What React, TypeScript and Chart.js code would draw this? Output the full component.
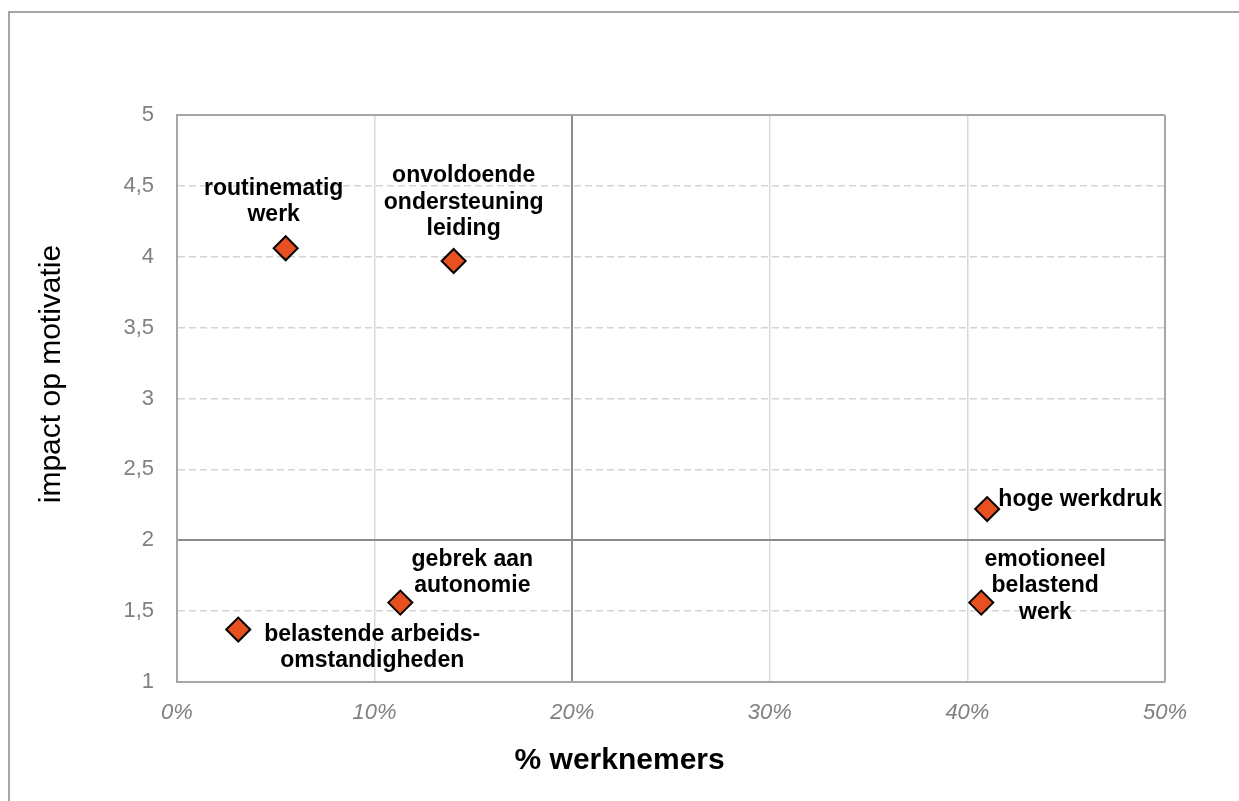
import React, { useEffect, useRef } from "react";
import { Chart, registerables } from "chart.js";

Chart.register(...registerables);

// Share of employees (%) and impact on motivation per work factor
const factors: string[][] = [
  ["routinematig", "werk"],
  ["onvoldoende", "ondersteuning", "leiding"],
  ["gebrek aan", "autonomie"],
  ["belastende arbeids-", "omstandigheden"],
  ["hoge werkdruk"],
  ["emotioneel", "belastend", "werk"],
];
const pctEmployees: number[] = [5.5, 14.0, 11.3, 3.1, 41.0, 40.7];
const motivationImpact: number[] = [4.06, 3.97, 1.56, 1.37, 2.22, 1.56];

const xTicks: number[] = [0, 10, 20, 30, 40, 50];
const yTicks: number[] = [1, 1.5, 2, 2.5, 3, 3.5, 4, 4.5, 5];

const xTitle = "% werknemers";
const yTitle = "impact op motivatie";

// Where each label sits relative to its marker (centre of the first line)
const labelOffsets: { dx: number; dy: number }[] = [
  { dx: -12, dy: -60 },
  { dx: 10, dy: -85 },
  { dx: 72, dy: -43 },
  { dx: 134, dy: 5 },
  { dx: 93, dy: -9 },
  { dx: 64, dy: -43 },
];

const FONT = '"Liberation Sans", Arial, sans-serif';
const FRAME = "#a6a6a6";

const decorations = {
  id: "decorations",
  beforeDraw(chart: any) {
    const { ctx } = chart;
    ctx.save();
    ctx.strokeStyle = FRAME;
    ctx.lineWidth = 2;
    ctx.beginPath();
    ctx.moveTo(9, chart.height);
    ctx.lineTo(9, 12);
    ctx.lineTo(chart.width, 12);
    ctx.stroke();
    ctx.restore();
  },
  afterDatasetsDraw(chart: any) {
    const { ctx, chartArea } = chart;
    const meta = chart.getDatasetMeta(0);
    ctx.save();
    ctx.fillStyle = "#000";
    ctx.font = `bold 23px ${FONT}`;
    ctx.textAlign = "center";
    ctx.textBaseline = "middle";
    const lineH = 26.5;
    meta.data.forEach((pt: any, i: number) => {
      const off = labelOffsets[i];
      factors[i].forEach((line, j) => {
        ctx.fillText(line, pt.x + off.dx, pt.y + off.dy + j * lineH);
      });
    });

    // axis titles
    ctx.font = `bold 30px ${FONT}`;
    ctx.textBaseline = "alphabetic";
    ctx.fillText(xTitle, chartArea.left + (chartArea.right - chartArea.left) * 0.448, 769);

    ctx.translate(52, 374);
    ctx.rotate(-Math.PI / 2);
    ctx.font = `30px ${FONT}`;
    ctx.textBaseline = "middle";
    ctx.fillText(yTitle, 0, 0);
    ctx.restore();
  },
};

export default function App() {
  const canvasRef = useRef<HTMLCanvasElement | null>(null);

  useEffect(() => {
    if (!canvasRef.current) return;
    const points = pctEmployees.map((x, i) => ({ x, y: motivationImpact[i] }));

    const chart = new Chart(canvasRef.current, {
      type: "scatter",
      data: {
        datasets: [
          {
            data: points,
            pointStyle: "rectRot",
            pointRadius: 12,
            pointHoverRadius: 12,
            backgroundColor: "#E8511F",
            borderColor: "#000000",
            borderWidth: 2,
          },
        ],
      },
      options: {
        animation: false,
        responsive: false,
        maintainAspectRatio: false,
        layout: { padding: { top: 115, right: 74, left: 0, bottom: 0 } },
        plugins: {
          legend: { display: false },
          tooltip: { enabled: false },
        },
        scales: {
          x: {
            type: "linear",
            min: xTicks[0],
            max: xTicks[xTicks.length - 1],
            afterBuildTicks: (scale: any) => {
              scale.ticks = xTicks.map((v) => ({ value: v }));
            },
            afterFit: (scale: any) => {
              scale.height = 119;
            },
            ticks: {
              callback: (v: any) => `${v}%`,
              color: "#808080",
              font: { family: FONT, size: 22, style: "italic" },
              padding: 18,
              maxRotation: 0,
            },
            grid: {
              drawTicks: false,
              color: (c: any) =>
                c.tick?.value === 20 ? "#8c8c8c" : c.tick?.value === 50 ? FRAME : "#d9d9d9",
              lineWidth: (c: any) => (c.tick?.value === 50 || c.tick?.value === 20 ? 2 : 1.5),
            },
            border: { display: true, color: FRAME, width: 2 },
          },
          y: {
            type: "linear",
            min: yTicks[0],
            max: yTicks[yTicks.length - 1],
            afterBuildTicks: (scale: any) => {
              scale.ticks = yTicks.map((v) => ({ value: v }));
            },
            afterFit: (scale: any) => {
              scale.width = 177;
            },
            ticks: {
              callback: (v: any) => String(v).replace(".", ","),
              color: "#808080",
              font: { family: FONT, size: 22 },
              padding: 23,
            },
            grid: {
              drawTicks: false,
              color: (c: any) =>
                c.tick?.value === 2 ? "#8c8c8c" : c.tick?.value === 5 ? FRAME : "#d4d4d4",
              lineWidth: (c: any) => (c.tick?.value === 2 || c.tick?.value === 5 ? 2 : 1.5),
            },
            border: {
              display: true,
              color: FRAME,
              width: 2,
              dash: (c: any) =>
                c.tick && c.tick.value !== 2 && c.tick.value !== 5 ? [7, 4] : [],
            },
          },
        },
      },
      plugins: [decorations],
    });

    return () => chart.destroy();
  }, []);

  return (
    <div style={{ position: "fixed", left: 0, top: 0, width: 1239, height: 801, background: "#fff" }}>
      <canvas ref={canvasRef} width={1239} height={801} style={{ display: "block" }} />
    </div>
  );
}
